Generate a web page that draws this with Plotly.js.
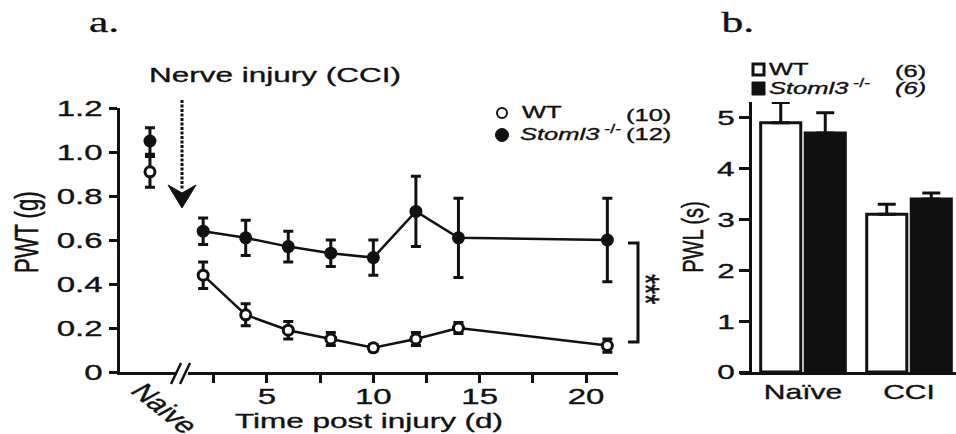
<!DOCTYPE html>
<html>
<head>
<meta charset="utf-8">
<script src="https://cdn.plot.ly/plotly-3.0.1.min.js"></script>
<style>
  html, body { margin: 0; padding: 0; background: #fff; }
  #chart { width: 956px; height: 434px; }
</style>
</head>
<body>
<div id="chart"></div>
<script>
// ---------- data ----------
const days      = [2, 4, 6, 8, 10, 12, 14, 21];
const wtPWT     = [0.44, 0.26, 0.19, 0.15, 0.11, 0.15, 0.20, 0.12];
const wtPWTerr  = [0.06, 0.05, 0.04, 0.03, 0.015, 0.03, 0.025, 0.03];
const koPWT     = [0.64, 0.61, 0.57, 0.54, 0.52, 0.73, 0.61, 0.60];
const koPWTerr  = [0.06, 0.08, 0.07, 0.06, 0.08, 0.16, 0.18, 0.19];
const naiveWT    = [0.91];
const naiveWTerr = [0.07];
const naiveKO    = [1.05];
const naiveKOerr = [0.06];

const pwlCategories = ['Naïve', 'CCI'];
const wtPWL    = [4.9, 3.1];
const wtPWLerr = [0.4, 0.2];
const koPWL    = [4.7, 3.4];
const koPWLerr = [0.4, 0.12];

const yTicksA     = [0, 0.2, 0.4, 0.6, 0.8, 1.0, 1.2];
const yTickTextA  = ['0', '0.2', '0.4', '0.6', '0.8', '1.0', '1.2'];
const xTicksA     = [5, 10, 15, 20];
const xTickTextA  = ['5', '10', '15', '20'];
const xMinorTicksA = [2.5, 7.5, 12.5, 17.5];
const yTicksB     = [0, 1, 2, 3, 4, 5];
const yTickTextB  = ['0', '1', '2', '3', '4', '5'];

// ---------- layout helpers ----------
const W = 956, H = 434;
const X = px => px / W;
const Y = py => 1 - py / H;
const NAIVE_X = -0.5;
const INK = '#111';
const FONT = 'Liberation Sans, Arial, Helvetica, sans-serif';

function pathPx(cmds) {
  return cmds.map(c => c.length === 1 ? c[0] : c[0] + ' ' + X(c[1]).toFixed(5) + ',' + Y(c[2]).toFixed(5)).join(' ');
}

const errStyle = { color: INK, thickness: 3, width: 5 };

const traces = [
  { type: 'scatter', mode: 'lines+markers', x: days, y: koPWT, xaxis: 'x', yaxis: 'y',
    line: { color: INK, width: 2.5 },
    marker: { size: 13, color: INK },
    error_y: Object.assign({ type: 'data', array: koPWTerr, visible: true }, errStyle) },
  { type: 'scatter', mode: 'lines+markers', x: days, y: wtPWT, xaxis: 'x', yaxis: 'y',
    line: { color: INK, width: 2.5 },
    marker: { size: 10, color: '#fff', line: { color: INK, width: 3 } },
    error_y: Object.assign({ type: 'data', array: wtPWTerr, visible: true }, errStyle) },
  { type: 'scatter', mode: 'markers', x: [NAIVE_X], y: naiveKO, xaxis: 'x', yaxis: 'y',
    marker: { size: 13, color: INK },
    error_y: Object.assign({ type: 'data', array: naiveKOerr, visible: true }, errStyle) },
  { type: 'scatter', mode: 'markers', x: [NAIVE_X], y: naiveWT, xaxis: 'x', yaxis: 'y',
    marker: { size: 10, color: '#fff', line: { color: INK, width: 3 } },
    error_y: Object.assign({ type: 'data', array: naiveWTerr, visible: true }, errStyle) },
  { type: 'bar', x: pwlCategories, y: wtPWL, xaxis: 'x2', yaxis: 'y2', name: 'WT',
    marker: { color: '#fff', line: { color: INK, width: 3 } },
    error_y: { type: 'data', symmetric: false, array: wtPWLerr, arrayminus: [0, 0], color: INK, thickness: 3, width: 9 } },
  { type: 'bar', x: pwlCategories, y: koPWL, xaxis: 'x2', yaxis: 'y2', name: 'Stoml3',
    marker: { color: INK, line: { color: INK, width: 3 } },
    error_y: { type: 'data', symmetric: false, array: koPWLerr, arrayminus: [0, 0], color: INK, thickness: 3, width: 9 } }
];

const axisBase = {
  showline: true, linewidth: 3, linecolor: INK,
  showgrid: false, zeroline: false,
  ticks: 'outside', tickwidth: 3, tickcolor: INK
};

const shapes = [
  { type: 'line', xref: 'paper', yref: 'paper', x0: X(182), x1: X(182), y0: Y(100), y1: Y(190),
    line: { color: INK, width: 3, dash: '3px,1.5px' } },
  { type: 'path', xref: 'paper', yref: 'paper',
    path: pathPx([['M', 168, 185], ['L', 182, 208], ['L', 196, 185], ['L', 182, 193], ['Z']]),
    fillcolor: INK, line: { color: INK, width: 1 } },
  { type: 'path', xref: 'paper', yref: 'paper',
    path: pathPx([['M', 628, 243], ['L', 638, 243], ['L', 638, 342], ['L', 628, 342]]),
    line: { color: INK, width: 3 } },
  { type: 'line', xref: 'paper', yref: 'paper', x0: X(177), x1: X(188), y0: Y(373.5), y1: Y(373.5),
    line: { color: '#fff', width: 7 } },
  { type: 'line', xref: 'paper', yref: 'paper', x0: X(171), x1: X(181), y0: Y(384), y1: Y(363),
    line: { color: INK, width: 2.5 } },
  { type: 'line', xref: 'paper', yref: 'paper', x0: X(180), x1: X(190), y0: Y(384), y1: Y(363),
    line: { color: INK, width: 2.5 } },
  { type: 'circle', xref: 'paper', yref: 'paper', x0: X(497), x1: X(507), y0: Y(118), y1: Y(108),
    fillcolor: '#fff', line: { color: INK, width: 2 } },
  { type: 'circle', xref: 'paper', yref: 'paper', x0: X(495.5), x1: X(508.5), y0: Y(141.5), y1: Y(128.5),
    fillcolor: INK, line: { color: INK, width: 1 } },
  { type: 'rect', xref: 'paper', yref: 'paper', x0: X(753), x1: X(764), y0: Y(75), y1: Y(64),
    fillcolor: '#fff', line: { color: INK, width: 3 } },
  { type: 'rect', xref: 'paper', yref: 'paper', x0: X(752), x1: X(765), y0: Y(95), y1: Y(82),
    fillcolor: INK, line: { color: INK, width: 1 } }
];

function ann(text, px, py, opts) {
  return Object.assign({
    text: text, xref: 'paper', yref: 'paper', x: X(px), y: Y(py),
    showarrow: false, xanchor: 'center', yanchor: 'middle', align: 'center',
    font: { family: FONT, size: 17, color: INK }
  }, opts || {});
}

const annotations = [
  ann('a.', 104, 22, { font: { family: 'Liberation Serif, Times New Roman, serif', size: 29, color: INK } }),
  ann('b.', 738, 22, { font: { family: 'Liberation Serif, Times New Roman, serif', size: 29, color: INK } }),
  ann('Nerve injury (CCI)', 275, 75, { font: { family: FONT, size: 21, color: INK } }),
  ann('PWT (g)', 27, 233, { textangle: -90, font: { family: FONT, size: 22, color: INK } }),
  ann('Naive', 165, 408, { textangle: 50, font: { family: FONT, size: 22, color: INK } }),
  ann('***', 645, 289, { textangle: 90, font: { family: FONT, size: 26, color: INK } }),
  // legend a
  ann('WT', 520, 113, { xanchor: 'left', align: 'left' }),
  ann('<i>Stoml3</i><sup> -/-</sup>', 518, 133, { xanchor: 'left', align: 'left' }),
  ann('(10)', 624, 115, { xanchor: 'left', align: 'left' }),
  ann('(12)', 624, 134, { xanchor: 'left', align: 'left' }),
  // legend b
  ann('WT', 767, 69, { xanchor: 'left', align: 'left' }),
  ann('<i>Stoml3</i><sup> -/-</sup>', 767, 87, { xanchor: 'left', align: 'left' }),
  ann('(6)', 893, 71, { xanchor: 'left', align: 'left' }),
  ann('<i>(6)</i>', 893, 89, { xanchor: 'left', align: 'left' })
];

const layout = {
  width: W, height: H,
  margin: { l: 0, r: 0, t: 0, b: 0, pad: 0 },
  paper_bgcolor: '#fff', plot_bgcolor: 'rgba(0,0,0,0)',
  showlegend: false,
  font: { family: FONT, color: INK, size: 20 },
  barmode: 'group', bargap: 0.16, bargroupgap: 0.1,
  xaxis: Object.assign({}, axisBase, {
    domain: [X(120), X(618)], range: [-1.909, 21.5], anchor: 'y',
    ticklen: 8, tickmode: 'array', tickvals: xTicksA, ticktext: xTickTextA,
    minor: { tickmode: 'array', tickvals: xMinorTicksA, ticks: 'outside', ticklen: 8, tickwidth: 3, tickcolor: INK, showgrid: false },
    tickfont: { size: 22, color: INK }, ticklabelstandoff: -5,
    title: { text: 'Time post injury (d)', font: { size: 21, color: INK }, standoff: 0 }
  }),
  yaxis: Object.assign({}, axisBase, {
    domain: [Y(372), Y(108)], range: [0, 1.2], anchor: 'x',
    ticklen: 8, tickmode: 'array', tickvals: yTicksA, ticktext: yTickTextA,
    tickfont: { size: 22, color: INK }, ticklabelstandoff: 2
  }),
  xaxis2: Object.assign({}, axisBase, {
    domain: [X(740), 1], range: [-0.594, 1.443], anchor: 'y2', type: 'category',
    ticks: '', tickfont: { size: 20, color: INK }
  }),
  yaxis2: Object.assign({}, axisBase, {
    domain: [Y(372), Y(102)], range: [0, 5.31], anchor: 'free', position: X(750),
    ticklen: 10, tickmode: 'array', tickvals: yTicksB, ticktext: yTickTextB,
    tickfont: { size: 21, color: INK },
    title: { text: 'PWL (s)', font: { size: 20, color: INK }, standoff: 16 }
  }),
  shapes: shapes,
  annotations: annotations
};

// The reference renders its lettering horizontally widened (and a little heavy);
// widen every text element in screen x about its own anchor, leaving marks untouched.
function widenText(gd, sx) {
  gd.querySelectorAll('svg text').forEach(function (t) {
    if (!t.textContent || !t.textContent.trim()) return;
    var bb;
    try { bb = t.getBBox(); } catch (e) { return; }
    if (!bb || !bb.width) return;
    var anchor = t.getAttribute('text-anchor') || window.getComputedStyle(t).textAnchor || 'start';
    var ax = anchor === 'end' ? bb.x + bb.width : (anchor === 'middle' ? bb.x + bb.width / 2 : bb.x);
    var ay = bb.y + bb.height / 2;
    var C = t.getScreenCTM(), P = t.parentNode.getScreenCTM();
    if (!C || !P) return;
    var Cm = new DOMMatrix([C.a, C.b, C.c, C.d, C.e, C.f]);
    var Pm = new DOMMatrix([P.a, P.b, P.c, P.d, P.e, P.f]);
    var pt = new DOMPoint(ax, ay).matrixTransform(Cm);
    var S = new DOMMatrix().translate(pt.x, pt.y).scale(sx, 1).translate(-pt.x, -pt.y);
    var T = Pm.inverse().multiply(S).multiply(Cm);
    t.setAttribute('transform', 'matrix(' + [T.a, T.b, T.c, T.d, T.e, T.f].join(',') + ')');
    t.style.stroke = INK;
    t.style.strokeWidth = '0.35px';
  });
}

const gd = document.getElementById('chart');
Plotly.newPlot(gd, traces, layout, { displayModeBar: false, staticPlot: true }).then(function () {
  widenText(gd, 1.5);
});
</script>
</body>
</html>
